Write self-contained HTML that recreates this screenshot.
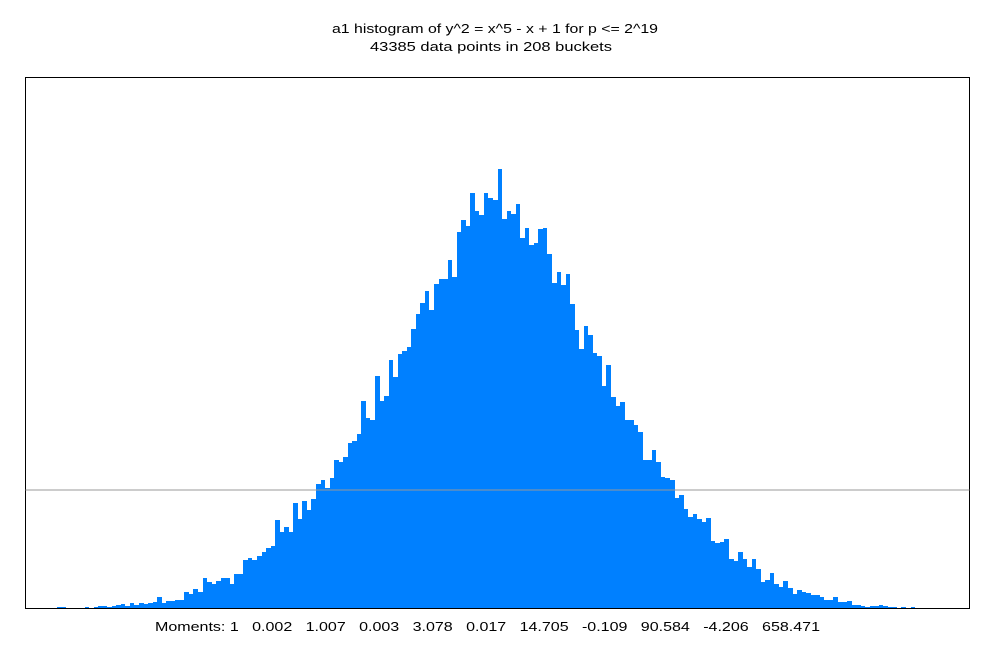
<!DOCTYPE html>
<html><head><meta charset="utf-8"><style>
body{margin:0;background:#fff;}
svg text{font-family:"Liberation Sans",sans-serif;font-size:13px;fill:#000;}
</style></head><body>
<svg id="chart" width="1000" height="640">
<text x="332" y="33" textLength="326" lengthAdjust="spacingAndGlyphs">a1 histogram of y^2 = x^5 - x + 1 for p &lt;= 2^19</text>
<text x="370" y="51" textLength="242" lengthAdjust="spacingAndGlyphs">43385 data points in 208 buckets</text>
<rect x="25.5" y="77.5" width="944" height="531" fill="none" stroke="#000" stroke-width="1"/>
<g id="bars"></g>
<text x="155" y="631" textLength="665" lengthAdjust="spacingAndGlyphs" xml:space="preserve">Moments: 1   0.002   1.007   0.003   3.078   0.017   14.705   -0.109   90.584   -4.206   658.471</text>
</svg>
<script>
const bucketCount = 208;
const counts = [0,0,0,0,0,0,0,1,1,0,0,0,0,1,0,1,2,2,1,2,3,4,2,5,3,5,4,5,6,11,5,7,7,8,8,16,14,19,16,30,26,24,27,30,30,24,34,34,48,50,48,52,56,60,62,88,76,81,76,105,89,107,98,109,124,128,120,130,148,146,151,165,167,174,207,190,188,232,207,212,248,231,254,257,261,279,294,305,317,298,324,329,329,348,331,376,388,382,415,397,393,415,410,408,439,389,397,394,404,370,380,363,365,379,380,354,325,336,323,334,304,278,259,282,273,255,252,222,243,211,202,206,188,188,183,176,148,148,158,146,131,130,128,110,113,99,91,94,89,86,90,67,65,66,69,49,47,56,49,41,49,39,26,28,35,24,21,27,20,14,18,16,15,13,13,11,8,8,11,6,6,7,3,3,2,1,2,2,3,2,1,1,0,1,0,1,0,0,0,0,0,0,0,0,0,0,0,0];
const referenceLevel = [118];
const yMax = 531;
const X0 = 25.5, W = 944, Y0 = 608, H = 531;
function xs(i){ return X0 + i * W / bucketCount; }
function ys(v){ return Y0 - v / yMax * H; }
const ns = "http://www.w3.org/2000/svg";
const g = document.getElementById('bars');
counts.forEach((c, i) => {
  if (c <= 0) return;
  const r = document.createElementNS(ns, 'rect');
  const x1 = Math.round(xs(i)), x2 = Math.round(xs(i + 1));
  r.setAttribute('x', x1);
  r.setAttribute('width', x2 - x1);
  r.setAttribute('y', ys(c));
  r.setAttribute('height', Y0 - ys(c));
  r.setAttribute('fill', '#0080ff');
  
  
  g.appendChild(r);
});
const ln = document.createElementNS(ns, 'line');
ln.setAttribute('x1', X0); ln.setAttribute('x2', X0 + W);
ln.setAttribute('y1', ys(referenceLevel[0])); ln.setAttribute('y2', ys(referenceLevel[0]));
ln.setAttribute('stroke', '#999'); ln.setAttribute('stroke-width', '1');


document.getElementById('chart').appendChild(ln);
</script>
</body></html>
